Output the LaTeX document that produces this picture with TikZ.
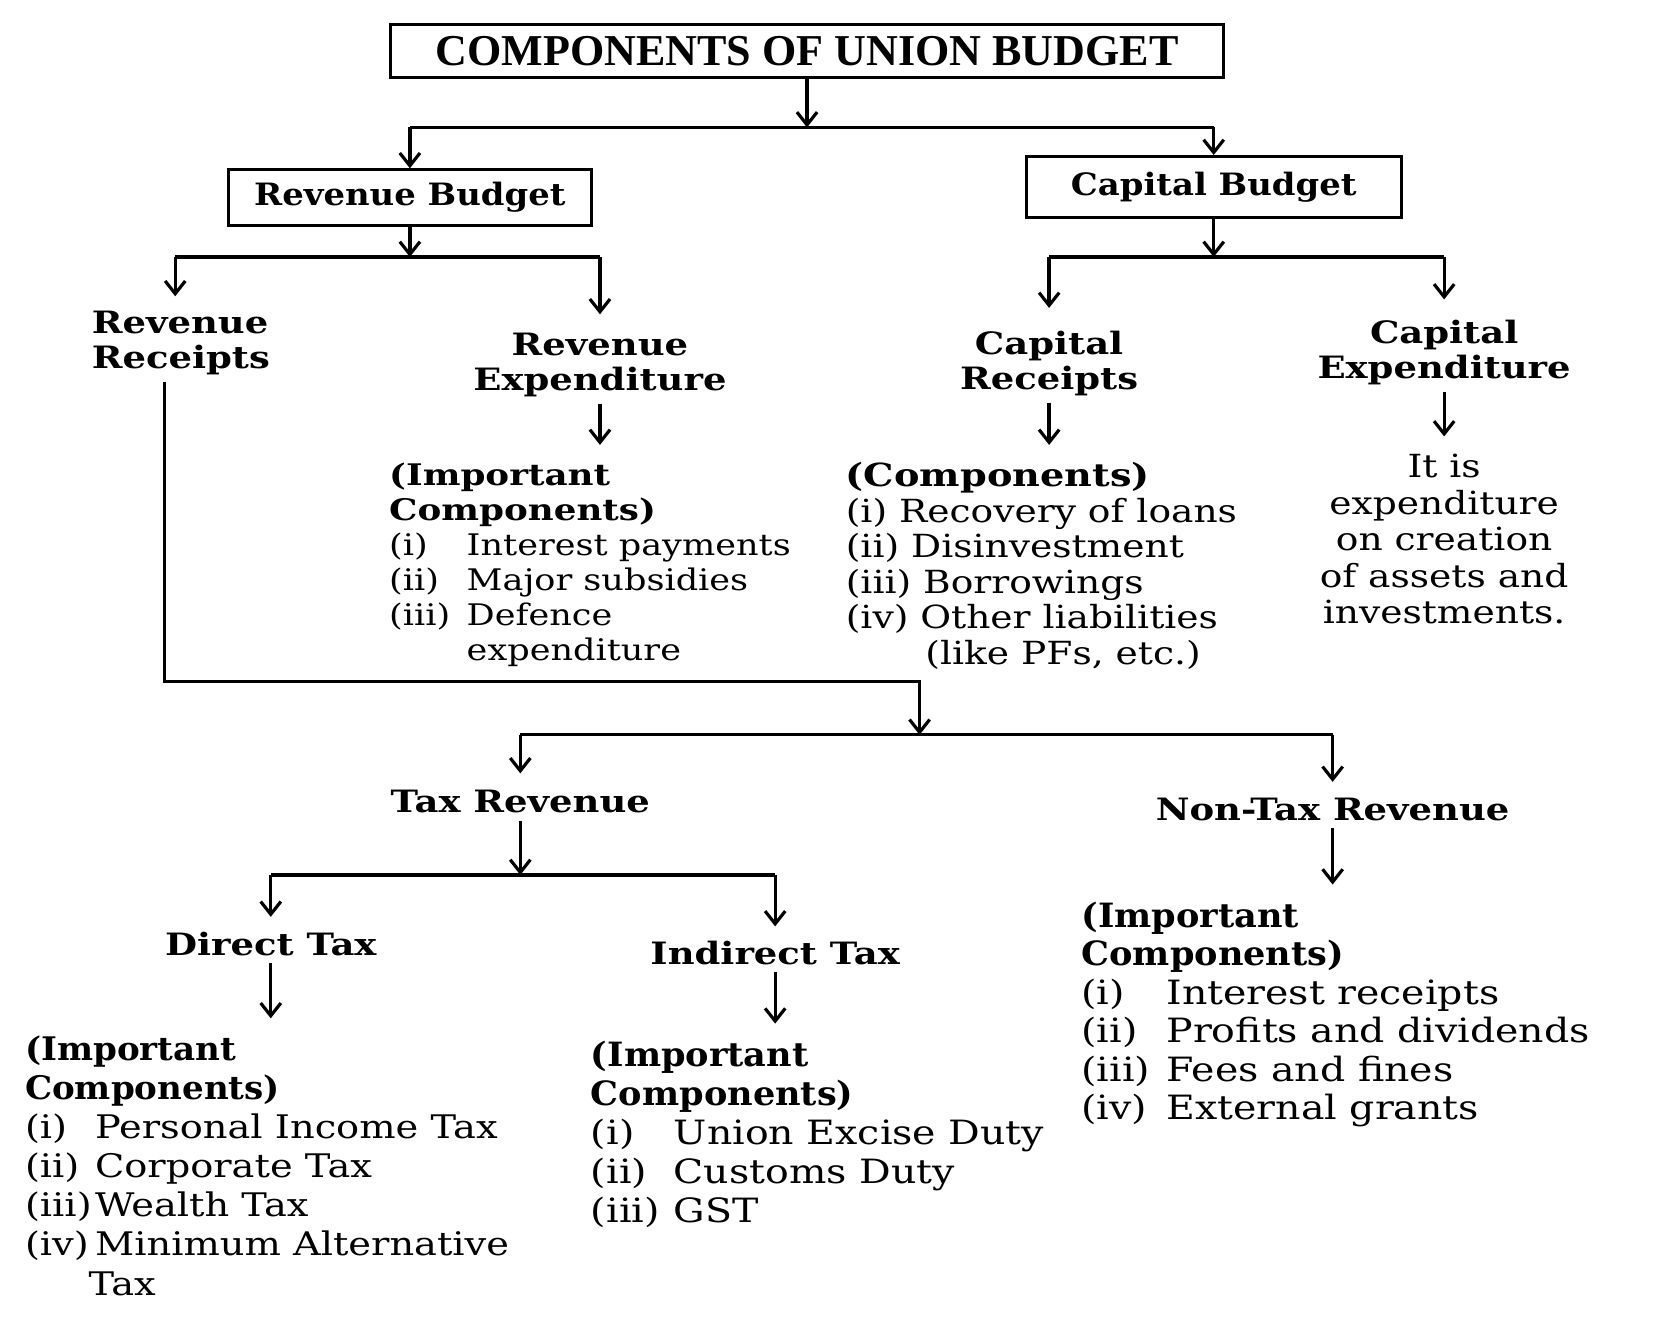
\documentclass[tikz,border=0pt]{standalone}
\usepackage{fontspec}
\setmainfont{DejaVu Serif}
\newfontfamily\bodyfont{DejaVu Serif}[FakeStretch=1.18]
\newfontfamily\headfont{DejaVu Serif}[FakeStretch=1.1]
\newfontfamily\headfontW{DejaVu Serif}[FakeStretch=1.2]
\newfontfamily\headfontN{DejaVu Serif}[FakeStretch=1.05]
\newfontfamily\titlefont{Liberation Serif}
\usetikzlibrary{arrows.meta}
\newcommand\hd[1]{{\headfontW\bfseries #1}}
\newcommand\hdL[1]{{\headfontN\bfseries #1}}
\newcommand\itm[2]{\makebox[#1][l]{#2}}
\tikzset{
  arr/.style={-{Straight Barb[length=12pt,width=19pt,line width=3pt]}},
  tarr/.style={arr, shorten <=5pt, shorten >=15pt},
  tbox/.style={draw, line width=3pt, inner sep=0pt},
  head/.style={font=\headfontW\bfseries\fontsize{29}{33}\selectfont, align=center, inner sep=0pt},
  bodyU/.style={font=\bodyfont\fontsize{28}{33}\selectfont, align=left, inner sep=0pt, anchor=north west},
  bodyC/.style={font=\bodyfont\fontsize{30}{33.4}\selectfont, align=left, inner sep=0pt, anchor=north west},
  bodyL/.style={font=\bodyfont\fontsize{31.5}{36.8}\selectfont, align=left, inner sep=0pt, anchor=north west},
}
\begin{document}
\begin{tikzpicture}[x=1pt,y=-1pt,line width=3.1pt]
\useasboundingbox (0,0) rectangle (1568,1262);
\fill[white] (0,0) rectangle (1568,1262);

% boxes
\node[tbox, minimum width=785pt, minimum height=50pt,
      font=\titlefont\bfseries\fontsize{41.5}{45}\selectfont] (title) at (760,48) {COMPONENTS OF UNION BUDGET};
\node[tbox, minimum width=342pt, minimum height=52pt,
      font=\headfont\bfseries\fontsize{29}{33}\selectfont] (revb) at (386,186) {Revenue Budget};
\node[tbox, minimum width=353pt, minimum height=57pt,
      font=\headfont\bfseries\fontsize{29}{33}\selectfont] (capb) at (1143,176) {Capital Budget};

% headings
\node[head, anchor=north west, align=left] (rr) at (85,291) {Revenue\\Receipts};
\node[head, anchor=north] (re) at (565,312) {Revenue\\Expenditure};
\node[head, anchor=north] (cr) at (988,310) {Capital\\Receipts};
\node[head, anchor=north] (ce) at (1360,300) {Capital\\Expenditure};
\node[head, anchor=base] (tr) at (490,765) {Tax Revenue};
\node[head, anchor=base] (ntr) at (1255,773) {Non-Tax Revenue};
\node[head, anchor=base] (dt) at (255,900) {Direct Tax};
\node[head, anchor=base] (it) at (730,908) {Indirect Tax};

% text blocks
\node[bodyU] (reb) at (365,434) {\hd{(Important}\\\hd{Components)}\\
  \itm{73pt}{(i)}Interest payments\\\itm{73pt}{(ii)}Major subsidies\\
  \itm{73pt}{(iii)}Defence\\\hspace*{73pt}expenditure};
\node[bodyC] (crb) at (795,434) {\hd{(Components)}\\
  (i) Recovery of loans\\(ii) Disinvestment\\(iii) Borrowings\\
  (iv) Other liabilities\\\hspace*{75pt}(like PFs, etc.)};
\node[bodyC, anchor=north, align=center, font=\bodyfont\fontsize{30}{34.5}\selectfont] (ceb) at (1360,426)
  {It is\\expenditure\\on creation\\of assets and\\investments.};
\node[bodyL, font=\bodyfont\fontsize{30.6}{36.8}\selectfont] (dtb) at (22,974) {\hdL{(Important}\\\hdL{Components)}\\
  \itm{66pt}{(i)}Personal Income Tax\\\itm{66pt}{(ii)}Corporate Tax\\
  \itm{66pt}{(iii)}Wealth Tax\\\itm{66pt}{(iv)}Minimum Alternative\\\hspace*{60pt}Tax};
\node[bodyL] (itb) at (555,979) {\hdL{(Important}\\\hdL{Components)}\\
  \itm{78pt}{(i)}Union Excise Duty\\\itm{78pt}{(ii)}Customs Duty\\\itm{78pt}{(iii)}GST};
\node[bodyL, font=\bodyfont\fontsize{31.5}{36.2}\selectfont] (ntb) at (1017,848) {\hdL{(Important}\\\hdL{Components)}\\
  \itm{80pt}{(i)}Interest receipts\\\itm{80pt}{(ii)}Profits and dividends\\
  \itm{80pt}{(iii)}Fees and fines\\\itm{80pt}{(iv)}External grants};

% junction coordinates
\coordinate (j1) at (760,120);
\coordinate (j1l) at (386,120);
\coordinate (j1r) at (1143,120);
\coordinate (j2) at (386,242);
\coordinate (j2l) at (165,242);
\coordinate (j2r) at (565,242);
\coordinate (j3) at (1143,242);
\coordinate (j3l) at (988,242);
\coordinate (j3r) at (1360,242);
\coordinate (rrb) at (155,360);
\coordinate (k) at (866,642);
\coordinate (j4) at (866,692);
\coordinate (j4l) at (490,692);
\coordinate (j4r) at (1255,692);
\coordinate (j5) at (490,824);
\coordinate (j5l) at (255,824);
\coordinate (j5r) at (730,824);

% connectors
\draw[arr] (title.south) -- (j1);
\draw (j1l) -- (j1r);
\draw[arr] (j1l) -- (revb.north);
\draw[arr] (j1r) -- (capb.north);

\draw[arr] (revb.south) -- (j2);
\draw (j2l) -- (j2r);
\draw[arr, shorten >=12pt] (j2l) -- (j2l |- rr.north);
\draw[arr, shorten >=16pt] (j2r) -- (re.north);
\draw[tarr] (re.south) -- (re.south |- reb.north);

\draw[arr] (capb.south) -- (j3);
\draw (j3l) -- (j3r);
\draw[arr, shorten >=20pt] (j3l) -- (cr.north);
\draw[arr, shorten >=18pt] (j3r) -- (ce.north);
\draw[tarr] (cr.south) -- (cr.south |- crb.north);
\draw[tarr] (ce.south) -- (ceb.north);

\draw[arr] (rrb) |- (k) -- (j4);
\draw (j4l) -- (j4r);
\draw[arr, shorten >=14pt] (j4l) -- (tr.north);
\draw[arr, shorten >=14pt] (j4r) -- (ntr.north);
\draw[tarr] (ntr.south) -- (ntr.south |- ntb.north);

\draw[arr, shorten <=6pt] (tr.south) -- (j5);
\draw (j5l) -- (j5r);
\draw[arr, shorten >=13pt] (j5l) -- (dt.north);
\draw[arr, shorten >=12pt] (j5r) -- (it.north);
\draw[tarr] (dt.south) -- (dt.south |- dtb.north);
\draw[tarr] (it.south) -- (it.south |- itb.north);
\end{tikzpicture}
\end{document}
